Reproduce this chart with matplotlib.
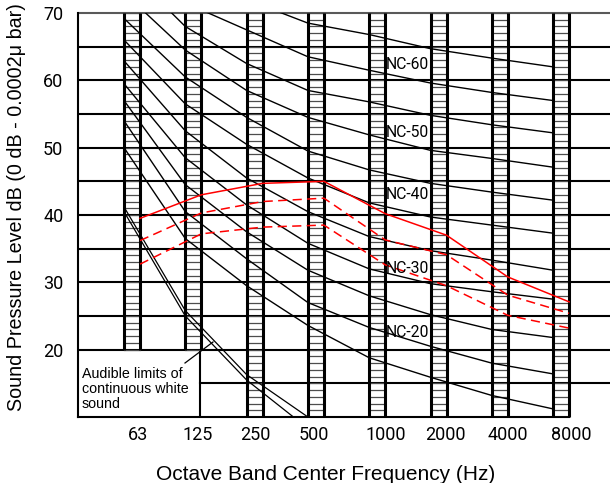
import matplotlib
matplotlib.use("Agg")
import matplotlib.pyplot as plt
import numpy as np

# ---- data ----
bands = ["63", "125", "250", "500", "1000", "2000", "4000", "8000"]
nc_names = ["NC-65", "NC-60", "NC-55", "NC-50", "NC-45", "NC-40",
            "NC-35", "NC-30", "NC-25", "NC-20", "NC-15"]
nc65 = [83.0, 76.0, 72.0, 68.5, 66.8, 64.7, 63.3, 62.0]
nc60 = [80.0, 71.5, 67.5, 63.5, 61.5, 59.6, 58.2, 57.0]
nc55 = [77.0, 68.0, 62.5, 58.5, 56.8, 54.8, 53.4, 52.2]
nc50 = [73.0, 64.5, 58.5, 54.5, 51.9, 49.6, 48.4, 47.1]
nc45 = [69.2, 60.5, 54.5, 49.5, 46.7, 44.7, 43.4, 42.2]
nc40 = [66.0, 56.5, 50.5, 45.5, 41.8, 39.7, 38.5, 37.3]
nc35 = [62.9, 52.5, 45.5, 40.5, 36.8, 34.7, 33.3, 31.8]
nc30 = [59.5, 48.5, 41.5, 35.8, 32.0, 29.8, 28.6, 27.5]
nc25 = [57.0, 44.5, 37.5, 31.8, 28.0, 25.2, 23.0, 21.8]
nc20 = [54.0, 40.5, 33.5, 27.0, 23.3, 20.5, 18.0, 16.4]
nc15 = [50.0, 36.5, 29.5, 23.6, 18.8, 15.9, 13.2, 11.2]
nc_curves = [nc65, nc60, nc55, nc50, nc45, nc40, nc35, nc30, nc25, nc20, nc15]

audible_a = [41.2, 25.8, 16.3, 10.0]
audible_b = [40.5, 25.0, 15.5, 8.3]

red_solid = [39.5, 43.0, 44.7, 45.0, 40.2, 37.0, 30.8, 27.1]
red_dash_upper = [36.2, 40.3, 42.0, 42.5, 36.3, 34.1, 28.1, 25.4]
red_dash_lower = [32.7, 37.2, 38.2, 38.5, 32.6, 29.5, 25.1, 23.2]

labelled = ["NC-60", "NC-50", "NC-40", "NC-30", "NC-20"]
label_levels = [62.3, 52.2, 43.0, 32.1, 22.5]

# ---- layout ----
W, H = 610, 483
fig = plt.figure(figsize=(W / 100, H / 100), dpi=100)
L, R, T, B = 78, 610, 13, 417
ax = fig.add_axes([L / W, 1 - B / H, (R - L) / W, (B - T) / H])
sp = 61.3           # px per octave band
x0 = 124            # px of first column
def px2u(p):
    return (p - x0) / sp
def py2db(p):
    return 10 + (B - p) / ((B - T) / 60.0)
ax.set_xlim(px2u(L), px2u(R))
ax.set_ylim(10, 70)
for s in ax.spines.values():
    s.set_visible(False)

cw = 16 / sp        # column width
box_right = px2u(200)
n = len(bands)
xb = np.arange(n)

# horizontal grid
for y in range(20, 71, 5):
    ax.plot([px2u(L), px2u(R)], [y, y], color="0.35" if y == 70 else "black",
            lw=1.5, solid_capstyle="butt", zorder=1, clip_on=False)
ax.plot([box_right, px2u(R)], [15, 15], color="black", lw=1.5, zorder=1)
ax.plot([px2u(L), 7 + cw], [10, 10], color="black", lw=1.5, zorder=1, clip_on=False)
ax.plot([px2u(L), px2u(L)], [10, 70], color="black", lw=1.5, zorder=1, clip_on=False)
ax.plot([box_right, box_right], [10, 20], color="black", lw=1.5, zorder=1)

# hatched octave-band columns
for i in range(n):
    ylo = 20 if i < 2 else 10
    for y in range(ylo, 71):
        ax.plot([i, i + cw], [y, y], color="0.3", lw=0.9, zorder=2)
    for xe in (i, i + cw):
        ax.plot([xe, xe], [ylo, 70], color="black", lw=2.2, zorder=3,
                solid_capstyle="butt", clip_on=False)

# NC curves
for vals in nc_curves:
    ax.plot(xb, vals, color="black", lw=1.0, zorder=4)

# audible limit lines
ax.plot(xb[:4], audible_a, color="black", lw=0.9, zorder=4)
ax.plot(xb[:4], audible_b, color="black", lw=0.9, zorder=4)

# red measured spectra
xr = xb + cw
ax.plot(xr, red_solid, color="#ff0000", lw=1.1, zorder=5)
ax.plot(xr, red_dash_upper, color="#ff0000", lw=1.1, zorder=5, dashes=(6, 3.5))
ax.plot(xr, red_dash_lower, color="#ff0000", lw=1.1, zorder=5, dashes=(6, 3.5))

# NC labels
for name, lev in zip(labelled, label_levels):
    ax.text(px2u(386), lev, name, fontsize=11.3, family="Roboto",
            va="center", ha="left", zorder=6)

# annotation box text
ax.text(px2u(82), py2db(389), "Audible limits of\ncontinuous white\nsound",
        fontsize=10.3, family="Liberation Sans", va="center", ha="left",
        linespacing=1.1, zorder=6)
ax.plot([px2u(185), px2u(213)], [py2db(363), py2db(342)],
        color="black", lw=0.9, zorder=6)

# ticks
tick_px = [138, 197.5, 255, 313.5, 386, 445, 508, 571]
ax.set_xticks([px2u(p) for p in tick_px])
ax.set_xticklabels(bands, family="Roboto", fontsize=13)
ax.set_yticks([20, 30, 40, 50, 60, 70])
ax.set_yticklabels(["20", "30", "40", "50", "60", "70"],
                   family="Roboto", fontsize=13)
ax.tick_params(axis="x", length=0, pad=6.7)
ax.tick_params(axis="y", length=0, pad=10.5)

ax.set_xlabel("Octave Band Center Frequency (Hz)", family="Liberation Sans",
              fontsize=15, va="center")
ax.xaxis.set_label_coords((326 - L) / (R - L), -(474 - B) / (B - T))
ax.set_ylabel("Sound Pressure Level dB (0 dB - 0.0002\u03bc bar)",
              family="Liberation Sans", fontsize=14.2, va="center")
ax.yaxis.set_label_coords((17 - L) / (R - L), (B - 207.5) / (B - T))

fig.savefig("out.png", dpi=100)
